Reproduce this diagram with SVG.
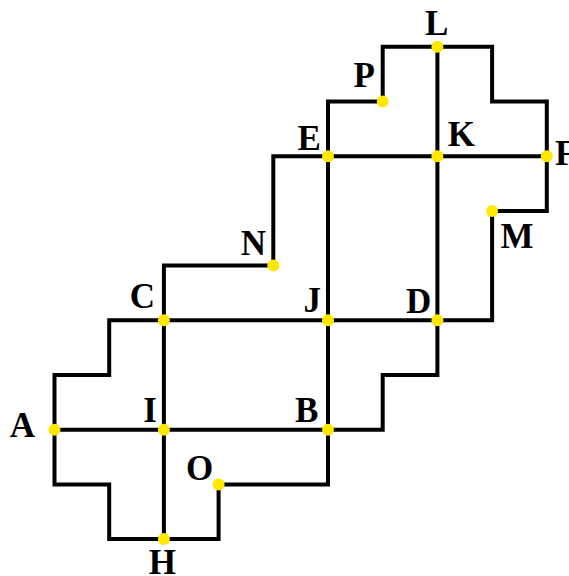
<svg xmlns="http://www.w3.org/2000/svg" width="569" height="576" viewBox="0 0 569 576">
<style>
.e{fill:none;stroke:#000;stroke-width:4;stroke-linejoin:miter;stroke-linecap:square}
.d{fill:#FFE800}
.t{font-family:"Liberation Serif","Times New Roman",serif;font-weight:bold;font-size:35px;fill:#000;text-anchor:middle}
</style>
<rect width="569" height="576" fill="#fff"/>
<g id="connectors">
<path class="e" d="M54.5,429.7 V375 H109.2 V320.3 H163.9"/>
<path class="e" d="M163.9,320.3 H328"/>
<path class="e" d="M328,320.3 H437.4"/>
<path class="e" d="M437.4,320.3 H492.1 V210.9"/>
<path class="e" d="M492.1,210.9 H546.8 V156.2"/>
<path class="e" d="M546.8,156.2 H437.4"/>
<path class="e" d="M437.4,156.2 H328"/>
<path class="e" d="M546.8,156.2 V101.5 H492.1 V46.8 H437.4"/>
<path class="e" d="M437.4,46.8 H382.7 V101.5"/>
<path class="e" d="M382.7,101.5 H328 V156.2"/>
<path class="e" d="M328,156.2 H273.3 V265.6"/>
<path class="e" d="M273.3,265.6 H163.9 V320.3"/>
<path class="e" d="M437.4,46.8 V156.2"/>
<path class="e" d="M437.4,156.2 V320.3"/>
<path class="e" d="M328,156.2 V320.3"/>
<path class="e" d="M328,320.3 V429.7"/>
<path class="e" d="M163.9,320.3 V429.7"/>
<path class="e" d="M163.9,429.7 V539.1"/>
<path class="e" d="M54.5,429.7 H163.9"/>
<path class="e" d="M163.9,429.7 H328"/>
<path class="e" d="M328,429.7 H382.7 V375 H437.4 V320.3"/>
<path class="e" d="M328,429.7 V484.4 H218.6"/>
<path class="e" d="M218.6,484.4 V539.1 H163.9"/>
<path class="e" d="M163.9,539.1 H109.2 V484.4 H54.5 V429.7"/>
</g>
<g id="node-A"><circle class="d" cx="54.5" cy="429.7" r="6"/><text class="t" x="22.3" y="437">A</text></g>
<g id="node-B"><circle class="d" cx="328" cy="429.7" r="6"/><text class="t" x="306.7" y="421.7">B</text></g>
<g id="node-C"><circle class="d" cx="163.9" cy="320.3" r="6"/><text class="t" x="142.3" y="308.3">C</text></g>
<g id="node-D"><circle class="d" cx="437.4" cy="320.3" r="6"/><text class="t" x="418.7" y="313.3">D</text></g>
<g id="node-E"><circle class="d" cx="328" cy="156.2" r="6"/><text class="t" x="309.3" y="150">E</text></g>
<g id="node-F"><circle class="d" cx="546.8" cy="156.2" r="6"/><text class="t" x="555" y="165" style="text-anchor:start">F</text></g>
<g id="node-H"><circle class="d" cx="163.9" cy="539.1" r="6"/><text class="t" x="162.3" y="574">H</text></g>
<g id="node-I"><circle class="d" cx="163.9" cy="429.7" r="6"/><text class="t" x="150" y="421.7">I</text></g>
<g id="node-J"><circle class="d" cx="328" cy="320.3" r="6"/><text class="t" x="312.3" y="311.7">J</text></g>
<g id="node-K"><circle class="d" cx="437.4" cy="156.2" r="6"/><text class="t" x="461.3" y="145.7">K</text></g>
<g id="node-L"><circle class="d" cx="437.4" cy="46.8" r="6"/><text class="t" x="436.7" y="35">L</text></g>
<g id="node-M"><circle class="d" cx="492.1" cy="210.9" r="6"/><text class="t" x="517" y="248.3">M</text></g>
<g id="node-N"><circle class="d" cx="273.3" cy="265.6" r="6"/><text class="t" x="253.3" y="255">N</text></g>
<g id="node-O"><circle class="d" cx="218.6" cy="484.4" r="6"/><text class="t" x="199.7" y="480">O</text></g>
<g id="node-P"><circle class="d" cx="382.7" cy="101.5" r="6"/><text class="t" x="364.3" y="87.3">P</text></g>
</svg>
